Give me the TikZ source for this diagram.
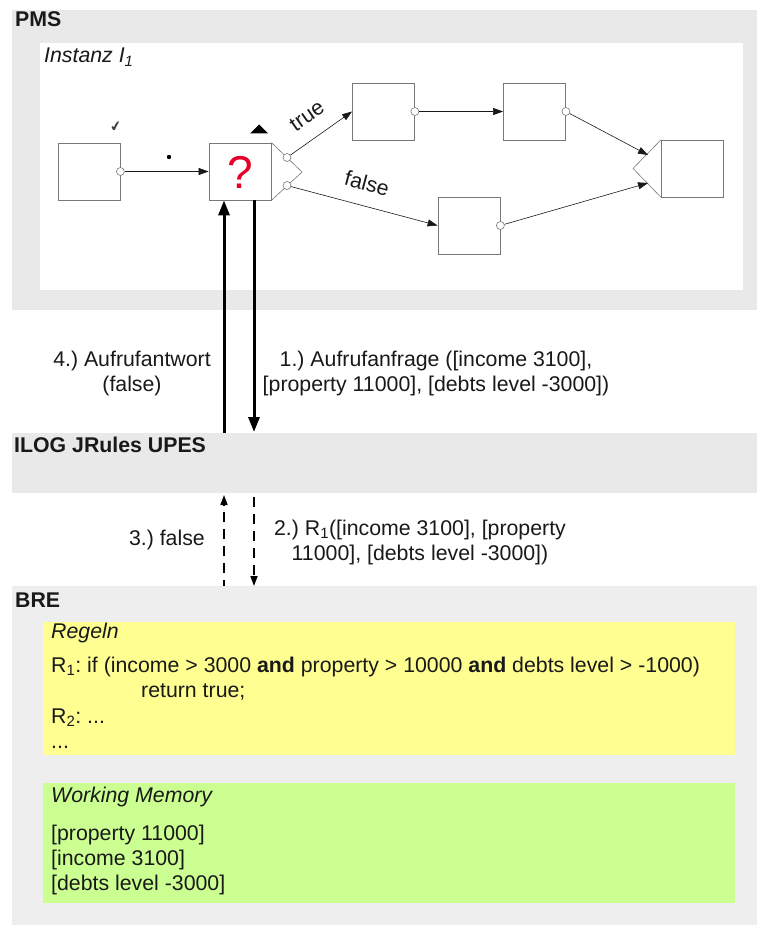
\documentclass[tikz,border=0pt]{standalone}
\usepackage{fontspec}
\setmainfont{Liberation Sans}
\newfontfamily\dejavu{DejaVu Sans}
\usetikzlibrary{arrows.meta}
\frenchspacing
\definecolor{bandgray}{RGB}{233,233,233}
\definecolor{bregray}{RGB}{238,238,238}
\definecolor{ruleyellow}{RGB}{255,255,145}
\definecolor{memgreen}{RGB}{204,255,145}
\definecolor{linegray}{RGB}{120,120,120}
\definecolor{qred}{RGB}{230,0,40}
\definecolor{ink}{RGB}{25,25,25}
\newcommand{\lbl}{\fontsize{21.3}{25}\selectfont}
\newcommand{\brefont}{\fontsize{21.3}{25}\selectfont}
\begin{document}
\begin{tikzpicture}[x=1pt,y=-1pt,
  every node/.style={text=ink},
  pbox/.style={draw=linegray, line width=0.8pt, fill=white, minimum width=62pt, minimum height=57pt, inner sep=0pt},
  port/.style={circle, draw=linegray, fill=white, line width=0.6pt, minimum size=8pt, inner sep=0pt},
  flow/.style={draw=ink, line width=0.6pt, -{Triangle[length=10pt,width=7pt]}},
  gate/.style={draw=linegray, line width=0.6pt},
  bigarrow/.style={draw=black, line width=3pt, -{Triangle[length=15pt,width=11pt]}},
  dasharrow/.style={draw=black, line width=1.6pt, dash pattern=on 10pt off 7pt, -{Triangle[length=10pt,width=7pt]}},
  lab/.style={font=\lbl, inner sep=0pt},
  brt/.style={font=\brefont, inner sep=0pt, anchor=base west}
]
\useasboundingbox (0,0) rectangle (757,925);
\fill[white] (0,0) rectangle (757,925);

% ---------- PMS ----------
\fill[bandgray] (12,10) rectangle (757,310);
\fill[white] (40,43) rectangle (743,290);
\node[lab, anchor=base west, font=\lbl\bfseries] (pms) at (15,27) {PMS};
\node[lab, anchor=base west, font=\lbl\itshape] (inst) at (44,63) {Instanz I\textsubscript{1}};

\node[pbox] (A) at (89,171.5) {};
\node[pbox] (Q) at (240,171.5) {};
\node[pbox] (B) at (383.5,111.5) {};
\node[pbox] (C) at (534.5,111.5) {};
\node[pbox] (D) at (692.5,168.5) {};
\node[pbox] (E) at (469,225.5) {};

\node[font=\fontsize{46}{46}\selectfont, text=qred, inner sep=0pt] (qm) at (240,172) {?};

% gates
\coordinate (qg) at (302,172);
\draw[gate] (Q.north east) -- (qg) -- (Q.south east);
\coordinate (dg) at (633,168.5);
\draw[gate] (D.north west) -- (dg) -- (D.south west);

% ports
\node[port] (pA) at (A.east) {};
\node[port] (pB) at (B.east) {};
\node[port] (pC) at (C.east) {};
\node[port] (pE) at (E.east) {};
\node[port] (qt) at (287,157.5) {};
\node[port] (qf) at (287,185.5) {};

% join targets
\coordinate (j1) at (648,155);
\coordinate (j2) at (648,183);

\draw[flow] (pA) -- (Q.west);
\draw[flow] (qt) -- (B.west);
\draw[flow] (qf) -- (E.west);
\draw[flow] (pB) -- (C.west);
\draw[flow] (pC) -- (j1);
\draw[flow] (pE) -- (j2);

% markers
\node[font=\dejavu\fontsize{14}{14}\selectfont, text=black!75, inner sep=0pt, rotate=12] (chk) at (116,127) {✔};
\fill[black] (169,157) circle (2.2pt);
\fill[black] (259,124.5) -- (250,133.5) -- (268,133.5) -- cycle;

% labels true / false
\node[lab, rotate=35] (ltrue) at (307,116) {true};
\node[lab, rotate=-15] (lfalse) at (367,183) {false};

% ---------- thick call arrows ----------
\coordinate (u1) at (224,433);
\coordinate (d1) at (254,432);
\draw[bigarrow] (u1) -- (u1 |- Q.south);
\draw[bigarrow] (d1 |- Q.south) -- (d1);

\node[lab, align=center] (ans) at (132,373) {4.) Aufrufantwort\\(false)};
\node[lab, align=center] (req) at (436,373) {1.) Aufrufanfrage ({[}income 3100],\\{[}property 11000], {[}debts level -3000])};

% ---------- ILOG ----------
\fill[bandgray] (12,433) rectangle (757,493);
\node[lab, anchor=base west, font=\lbl\bfseries] (ilog) at (14,452) {ILOG JRules UPES};

% dashed arrows
\coordinate (u2) at (224,590);
\coordinate (u2t) at (224,495);
\coordinate (d2) at (254,497);
\coordinate (d2t) at (254,586);
\draw[dasharrow] (u2) -- (u2t);
\draw[dasharrow] (d2) -- (d2t);

\node[lab, anchor=base east] (f3) at (205,545) {3.) false};
\node[lab, align=center] (r2) at (420,542) {2.) R\textsubscript{1}({[}income 3100], {[}property\\11000], {[}debts level -3000])};

% ---------- BRE ----------
\fill[bregray] (12,586) rectangle (757,925);
\node[lab, anchor=base west, font=\lbl\bfseries] (bre) at (15,607) {BRE};

\fill[ruleyellow] (43,622) rectangle (735,755);
\node[brt, font=\brefont\itshape] (regeln) at (51,638) {Regeln};
\node[brt] (r1) at (51,672) {R\textsubscript{1}: if (income > 3000 \textbf{and} property > 10000 \textbf{and} debts level > -1000)};
\node[brt] (ret) at (141,697) {return true;};
\node[brt] (r2l) at (51,723) {R\textsubscript{2}: ...};
\node[brt] (dots) at (51,748) {...};

\fill[memgreen] (43,783) rectangle (735,903);
\node[brt, font=\brefont\itshape] (wm) at (51,802) {Working Memory};
\node[brt] (m1) at (51,840) {[property 11000]};
\node[brt] (m2) at (51,865) {[income 3100]};
\node[brt] (m3) at (51,890) {[debts level -3000]};
\end{tikzpicture}
\end{document}
